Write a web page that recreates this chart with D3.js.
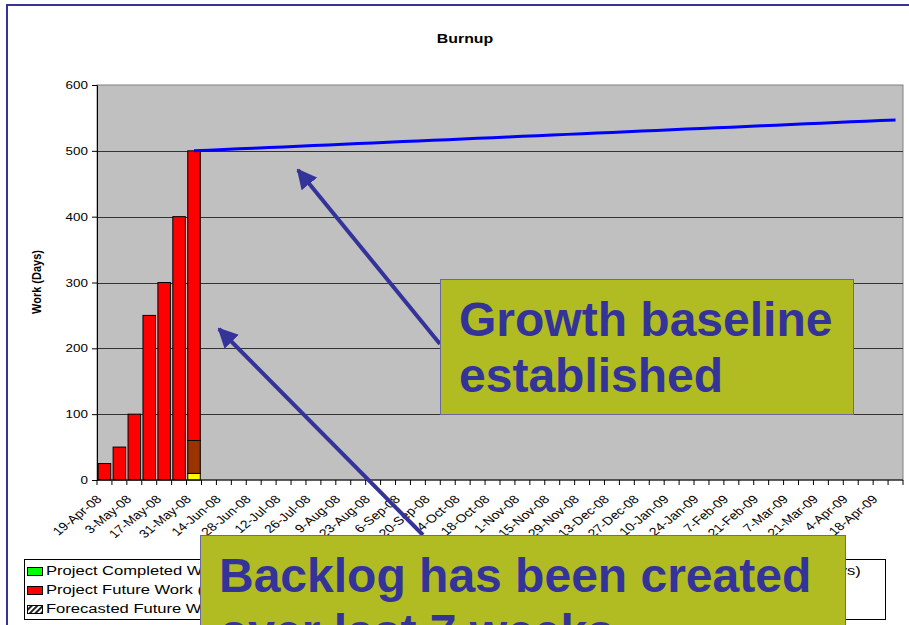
<!DOCTYPE html>
<html>
<head>
<meta charset="utf-8">
<script src="https://cdn.jsdelivr.net/npm/d3@7"></script>
<style>
  body { margin: 0; background: #fff; }
  svg { font-family: "Liberation Sans", Arial, sans-serif; }
</style>
</head>
<body>
<svg width="909" height="625"></svg>
<script>
// Weekly categories on the x axis.
var weeks = ["19-Apr-08","26-Apr-08","3-May-08","10-May-08","17-May-08","24-May-08","31-May-08",
  "7-Jun-08","14-Jun-08","21-Jun-08","28-Jun-08","5-Jul-08","12-Jul-08","19-Jul-08","26-Jul-08",
  "2-Aug-08","9-Aug-08","16-Aug-08","23-Aug-08","30-Aug-08","6-Sep-08","13-Sep-08","20-Sep-08",
  "27-Sep-08","4-Oct-08","11-Oct-08","18-Oct-08","25-Oct-08","1-Nov-08","8-Nov-08","15-Nov-08",
  "22-Nov-08","29-Nov-08","6-Dec-08","13-Dec-08","20-Dec-08","27-Dec-08","3-Jan-09","10-Jan-09",
  "17-Jan-09","24-Jan-09","31-Jan-09","7-Feb-09","14-Feb-09","21-Feb-09","28-Feb-09","7-Mar-09",
  "14-Mar-09","21-Mar-09","28-Mar-09","4-Apr-09","11-Apr-09","18-Apr-09","25-Apr-09"];

// Stacked bar series (first seven weeks).
var barWeeks        = weeks.slice(0, 7);
var completedWork   = [0, 0, 0, 0, 0, 0, 0];
var sprintDone      = [0, 0, 0, 0, 0, 0, 10];
var sprintRemaining = [0, 0, 0, 0, 0, 0, 50];
var futureWork      = [25, 50, 100, 250, 300, 400, 440];

// Growth baseline line, from 31-May-08 onwards.
var baselineWeeks = weeks.slice(6);
var baseline = [500,501,502,503,504,505,506,507,508,509,510,511,512,513,514,515,516,517,518,519,
  520,521,522,523,524,525,526,527,528,529,530,531,532,533,534,535,536,537,538,539,540,541,542,543,
  544,545,546,547];

var yTicks = [0, 100, 200, 300, 400, 500, 600];

var svg = d3.select("svg"),
    margin = {top: 85, right: 6, bottom: 145, left: 97},
    w = 909 - margin.left - margin.right,
    h = 625 - margin.top - margin.bottom,
    stretch = 1.22,       // chart text is a bit wide in the original
    legendStretch = 1.38;

// outer frame
svg.append("rect")
    .attr("x", 7).attr("y", 5)
    .attr("width", 1000).attr("height", 1000)
    .attr("fill", "#fff")
    .attr("stroke", "#333399")
    .attr("stroke-width", 2);

svg.append("text")
    .attr("transform", "translate(465,43) scale(" + stretch + ",1)")
    .attr("text-anchor", "middle")
    .style("font-weight", "bold")
    .style("font-size", "13px")
    .text("Burnup");

var g = svg.append("g").attr("transform", "translate(" + margin.left + "," + margin.top + ")");

var xScale = d3.scaleBand().domain(weeks).range([0, w]).paddingInner(0.16).paddingOuter(0.08);
var yScale = d3.scaleLinear().domain([0, 600]).range([h, 0]);
var step = xScale.step();

// plot area
g.append("rect")
    .attr("width", w).attr("height", h)
    .attr("fill", "#c0c0c0")
    .attr("stroke", "#808080");

// gridlines
g.selectAll(".grid")
    .data(yTicks.slice(1, 6))
    .enter().append("line")
    .attr("x1", 0).attr("x2", w)
    .attr("y1", function(d) { return Math.round(yScale(d)) + 0.5; })
    .attr("y2", function(d) { return Math.round(yScale(d)) + 0.5; })
    .attr("stroke", "#333");

// bars
var rows = barWeeks.map(function(wk, i) {
  return {week: wk, completed: completedWork[i], done: sprintDone[i],
          remaining: sprintRemaining[i], future: futureWork[i]};
});
var keys = ["completed", "done", "remaining", "future"];
var colors = {completed: "#00ff00", done: "#ffff00", remaining: "#993300", future: "#ff0000"};
var stack = d3.stack().keys(keys)(rows);

g.selectAll(".layer")
    .data(stack)
    .enter().append("g")
    .attr("fill", function(d) { return colors[d.key]; })
    .selectAll("rect")
    .data(function(d) { return d.filter(function(p) { return p[1] > p[0]; }); })
    .enter().append("rect")
    .attr("x", function(d) { return xScale(d.data.week); })
    .attr("width", xScale.bandwidth())
    .attr("y", function(d) { return yScale(d[1]); })
    .attr("height", function(d) { return yScale(d[0]) - yScale(d[1]); })
    .attr("stroke", "#000")
    .attr("stroke-width", 1);

// growth baseline
var line = d3.line()
    .x(function(d, i) { return xScale(baselineWeeks[i]) + xScale.bandwidth() / 2; })
    .y(function(d) { return yScale(d); });

g.append("path")
    .datum(baseline)
    .attr("d", line)
    .attr("fill", "none")
    .attr("stroke", "#0000ff")
    .attr("stroke-width", 3);

// y axis
var yAxis = d3.axisLeft(yScale).tickValues(yTicks).tickSize(5).tickPadding(4);
var ya = g.append("g").call(yAxis);
ya.select(".domain").attr("stroke", "#000");
ya.selectAll(".tick text")
    .style("font-size", "11px")
    .attr("fill", "#000")
    .attr("x", -7.5)
    .attr("transform", "scale(" + stretch + ",1)");

// x axis: ticks between categories, labels every other week
var xa = g.append("g").attr("transform", "translate(0," + h + ")");
xa.append("line").attr("x1", 0).attr("x2", w).attr("stroke", "#000");
xa.selectAll(".tk")
    .data(d3.range(weeks.length + 1))
    .enter().append("line")
    .attr("x1", function(i) { return i * step; })
    .attr("x2", function(i) { return i * step; })
    .attr("y1", 0).attr("y2", 5)
    .attr("stroke", "#000");
xa.selectAll(".lbl")
    .data(weeks.filter(function(d, i) { return i % 2 === 0; }))
    .enter().append("text")
    .attr("text-anchor", "end")
    .style("font-size", "11.5px")
    .attr("transform", function(d) {
      return "translate(" + (xScale(d) + xScale.bandwidth() / 2 - 2) + ",20) scale(" + stretch + ",1) rotate(-45)";
    })
    .text(function(d) { return d; });

svg.append("text")
    .attr("transform", "translate(41,282) scale(" + stretch + ",1) rotate(-90)")
    .attr("text-anchor", "middle")
    .style("font-weight", "bold")
    .style("font-size", "11px")
    .text("Work (Days)");

// legend
var legend = svg.append("g");
legend.append("rect")
    .attr("x", 24.5).attr("y", 559.5)
    .attr("width", 861).attr("height", 60)
    .attr("fill", "#fff").attr("stroke", "#000");

var defs = svg.append("defs");
var pat = defs.append("pattern")
    .attr("id", "hatch").attr("patternUnits", "userSpaceOnUse")
    .attr("width", 4).attr("height", 4)
    .attr("patternTransform", "rotate(45)");
pat.append("rect").attr("width", 4).attr("height", 4).attr("fill", "#fff");
pat.append("rect").attr("width", 2).attr("height", 4).attr("fill", "#222");

var legendItems = [
  {label: "Project Completed Work (Days)", fill: "#00ff00", x: 27, y: 571},
  {label: "Project Future Work (Days)", fill: "#ff0000", x: 27, y: 590},
  {label: "Forecasted Future Work (Days)", fill: "url(#hatch)", x: 27, y: 609},
  {label: "Sprint Done (Days)", fill: "#ffff00", x: 420, y: 571},
  {label: "Sprint Remaining (Days)", fill: "#993300", x: 420, y: 590},
  {label: "Growth Baseline (Days)", line: "#0000ff", x: 667, y: 571}
];
var li = legend.selectAll(".li").data(legendItems).enter().append("g")
    .attr("transform", function(d) { return "translate(" + d.x + "," + d.y + ")"; });
li.filter(function(d) { return !d.line; }).append("rect")
    .attr("x", 0.5).attr("y", -3.5).attr("width", 15).attr("height", 8)
    .attr("fill", function(d) { return d.fill; })
    .attr("stroke", "#000");
li.filter(function(d) { return d.line; }).append("line")
    .attr("x1", 0).attr("x2", 16).attr("y1", 0).attr("y2", 0)
    .attr("stroke", function(d) { return d.line; }).attr("stroke-width", 3);
li.append("text")
    .attr("transform", "translate(19,0) scale(" + legendStretch + ",1)")
    .attr("dy", "0.35em")
    .style("font-size", "12px")
    .text(function(d) { return d.label; });

// callouts
var calloutColor = "#333399";
defs.append("marker")
    .attr("id", "arrow").attr("viewBox", "0 0 10 10")
    .attr("refX", 9).attr("refY", 5)
    .attr("markerWidth", 5).attr("markerHeight", 5)
    .attr("orient", "auto")
    .append("path").attr("d", "M0,0L10,5L0,10Z").attr("fill", calloutColor);

svg.append("line")
    .attr("x1", 440).attr("y1", 344).attr("x2", 298).attr("y2", 170)
    .attr("stroke", calloutColor).attr("stroke-width", 4)
    .attr("marker-end", "url(#arrow)");
svg.append("line")
    .attr("x1", 423).attr("y1", 535).attr("x2", 219).attr("y2", 329)
    .attr("stroke", calloutColor).attr("stroke-width", 4)
    .attr("marker-end", "url(#arrow)");

function callout(x, y, width, height, lines) {
  svg.append("rect")
      .attr("x", x + 0.5).attr("y", y + 0.5)
      .attr("width", width).attr("height", height)
      .attr("fill", "#b0bc22")
      .attr("stroke", "#6a6a9a");
  svg.append("g").selectAll("text").data(lines).enter().append("text")
      .attr("x", x + 19)
      .attr("y", function(d, i) { return y + 57 + i * 56; })
      .attr("fill", calloutColor)
      .style("font-weight", "bold")
      .style("font-size", "48px")
      .text(function(d) { return d; });
}
callout(440, 279, 413, 135, ["Growth baseline", "established"]);
callout(200, 535, 645, 140, ["Backlog has been created", "over last 7 weeks"]);
</script>
</body>
</html>
